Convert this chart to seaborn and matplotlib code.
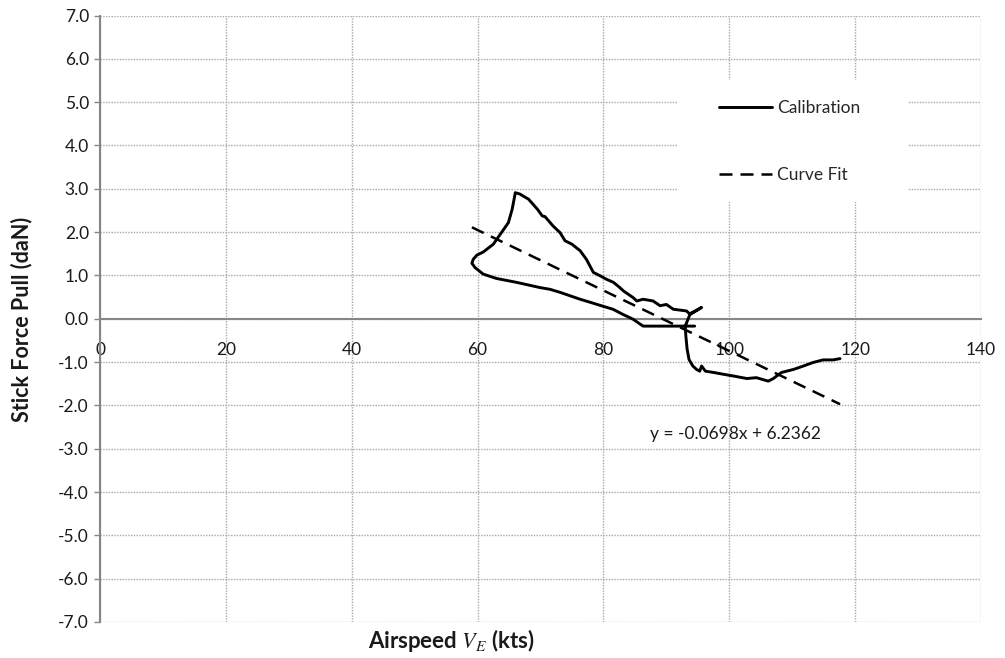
import numpy as np
import pandas as pd
import matplotlib
matplotlib.use("Agg")
import matplotlib.pyplot as plt
from matplotlib.patches import Rectangle
import seaborn as sns

# Calibration run: stick force against equivalent airspeed (one continuous trace)
airspeed_kts = [
    94.5, 90.0, 86.3, 84.7, 83.1, 81.5, 79.9, 77.9, 76.3, 74.7, 73.1, 71.5,
    69.9, 66.2, 63.0, 60.9, 59.6, 59.1, 59.3, 59.9, 60.9, 62.5, 63.8, 64.9,
    65.5, 66.0, 66.7, 68.1, 69.5, 70.3, 70.7, 72.0, 73.1, 73.9, 75.0, 76.3,
    77.3, 78.4, 79.5, 80.5, 81.6, 82.6, 83.2, 84.7, 85.3, 86.3, 87.9, 89.0,
    90.0, 91.1, 93.2, 93.8, 95.6, 93.8, 93.0, 93.1, 93.3, 93.6, 94.2, 94.8,
    95.3, 95.6, 96.2, 97.5, 99.0, 100.6, 102.8, 104.3, 106.2, 107.0, 108.3,
    110.2, 111.8, 113.3, 114.9, 116.5, 117.6,
]
stick_force_dan = [
    -0.17, -0.17, -0.17, -0.01, 0.10, 0.22, 0.29, 0.38, 0.45, 0.53, 0.61, 0.68,
    0.72, 0.84, 0.93, 1.03, 1.18, 1.28, 1.37, 1.47, 1.54, 1.72, 1.99, 2.22,
    2.53, 2.91, 2.88, 2.76, 2.53, 2.37, 2.36, 2.14, 1.99, 1.80, 1.72, 1.57,
    1.37, 1.07, 0.99, 0.91, 0.84, 0.72, 0.64, 0.49, 0.41, 0.45, 0.41, 0.30,
    0.33, 0.22, 0.18, 0.10, 0.26, 0.12, -0.17, -0.40, -0.70, -0.94, -1.09, -1.17,
    -1.21, -1.09, -1.21, -1.24, -1.28, -1.32, -1.38, -1.36, -1.44, -1.38, -1.24,
    -1.17, -1.09, -1.01, -0.95, -0.95, -0.92,
]

# Linear curve fit y = a*x + b over the calibrated speed range
fit_slope = -0.0698
fit_intercept = 6.2362
fit_range_kts = [59.1, 117.6]

x_ticks = [0, 20, 40, 60, 80, 100, 120, 140]
y_ticks = [-7.0, -6.0, -5.0, -4.0, -3.0, -2.0, -1.0, 0.0, 1.0, 2.0, 3.0, 4.0, 5.0, 6.0, 7.0]

calib = pd.DataFrame({"airspeed": airspeed_kts, "force": stick_force_dan})
fit_x = np.array(fit_range_kts)
fit = pd.DataFrame({"airspeed": fit_x, "force": fit_slope * fit_x + fit_intercept})

sns.set_style("white")
plt.rcParams["font.family"] = ["Lato", "DejaVu Sans"]
plt.rcParams["mathtext.fontset"] = "stix"
plt.rcParams["axes.unicode_minus"] = False

FS = 12.5
W, H = 1005, 658
fig = plt.figure(figsize=(W / 100, H / 100), dpi=100)
ax = fig.add_axes([100 / W, (H - 622) / H, 881 / W, 606.5 / H])

sns.lineplot(data=calib, x="airspeed", y="force", sort=False, estimator=None,
             color="black", lw=2.1, ax=ax, label="Calibration", zorder=4)
sns.lineplot(data=fit, x="airspeed", y="force", sort=False, estimator=None,
             color="black", lw=1.8, ax=ax, label="Curve Fit", zorder=4)
ax.lines[-1].set_dashes([5.2, 3.2])

ax.set_xlim(0, 140)
ax.set_ylim(-7, 7)
ax.set_xticks(x_ticks)
ax.set_yticks(y_ticks)
ax.set_xticklabels([f"{v:d}" for v in x_ticks])
ax.set_yticklabels([f"{v:.1f}" for v in y_ticks])

ax.grid(True, linestyle=(0, (1, 1)), color="#a8a8a8", lw=1.0, zorder=0)
ax.set_axisbelow(True)

for side in ("top", "right"):
    ax.spines[side].set_visible(False)
ax.spines["left"].set_color("#868686")
ax.spines["left"].set_linewidth(1.5)
ax.spines["bottom"].set_position(("data", 0))
ax.spines["bottom"].set_color("#868686")
ax.spines["bottom"].set_linewidth(1.5)

ax.tick_params(axis="y", direction="out", length=4, width=1, color="#868686",
               labelsize=FS, labelcolor="#1a1a1a", pad=4, left=True)
ax.tick_params(axis="x", length=0, labelsize=FS, labelcolor="#1a1a1a", pad=17,
               bottom=True)

ax.set_xlabel("")
ax.set_ylabel("")

# White panel behind the legend entries
ax.add_patch(Rectangle((0.655, 0.6925), 0.262, 0.2015, transform=ax.transAxes,
                       facecolor="white", edgecolor="none", zorder=2))
ax.legend(loc="upper left", bbox_to_anchor=((719 - 100) / 881, (622 - 100) / 606.5),
          frameon=False, borderpad=0, borderaxespad=0, handlelength=3.05,
          handletextpad=0.3, labelspacing=2.95, fontsize=FS)

ax.text(100.9, -2.67, f"y = {fit_slope:.4f}x + {fit_intercept:.4f}",
        ha="center", va="center", fontsize=FS, color="#1a1a1a", zorder=5)

fig.text(451 / W, 1 - 640 / H, r"Airspeed $V_E$ (kts)", ha="center", va="center",
         fontsize=16, fontweight="bold", color="#1a1a1a")
fig.text(22 / W, 1 - 319 / H, "Stick Force Pull (daN)", ha="center", va="center",
         rotation=90, fontsize=15.5, fontweight="bold", color="#1a1a1a")

fig.savefig("out.png", dpi=100)
